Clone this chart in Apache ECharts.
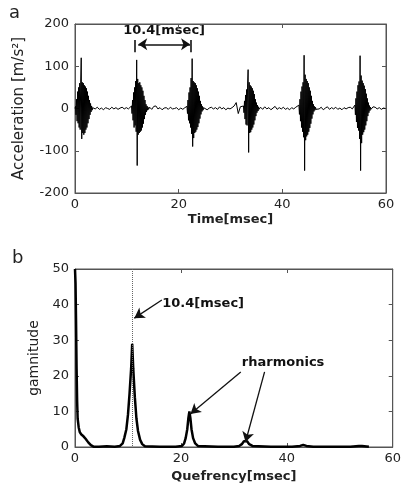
<!DOCTYPE html>
<html><head><meta charset="utf-8">
<script src="https://cdn.jsdelivr.net/npm/echarts@6/dist/echarts.min.js"></script>
<style>html,body{margin:0;padding:0;background:#fff}#c{width:404px;height:485px}</style>
</head><body><div id="c"></div>
<script>
// ---- Panel a: acceleration signal (ms, m/s^2) ----
const dtBurst = 0.1;
const dtQuiet = 0.4;
const burstStart = [0.1, 10.9, 21.6, 32.5, 43.2, 54.0];
const burst1 = [5,-15,22,-30,40,-35,50,-45,60,-50,65,120,-72,62,-58,60,-62,55,-58,52,-50,48,-45,40,-35,30,-25,20,-15,12,-8,6,-4,2];
const burst2 = [6,-12,20,-28,38,-45,50,-40,65,-55,115,-135,70,-62,60,-58,62,-55,55,-52,50,-45,42,-36,30,-25,20,-15,10,-8,6,-4,3,-2];
const burst3 = [5,-12,20,-28,38,-35,50,-45,72,-60,118,-90,65,-70,62,-58,60,-55,55,-50,48,-44,40,-35,30,-24,18,-14,10,-7,5,-4,2,-1];
const burst4 = [6,-10,18,-25,32,-38,45,-40,58,92,-104,62,-58,55,-56,52,-50,48,-45,42,-38,34,-28,22,-18,14,-10,8,-6,4,-2,2];
const burst5 = [8,-14,22,-30,40,-45,52,-55,62,-68,126,-147,80,-75,70,-66,65,-62,60,-55,50,-46,42,-36,30,-24,18,-14,10,-7,5,-4,3,-2];
const burst6 = [8,-15,24,-32,40,-46,55,-52,64,-72,125,-147,78,-82,66,-62,60,-56,54,-50,46,-40,35,-30,24,-18,14,-10,7,-5,3,-2,2,-1];
const quietStart = [3.5, 14.4, 25.1, 35.8, 46.7, 57.5];
const quiet1 = [2,-1,3,-2,1,-3,2,0,-2,3,-1,2,-2,1,3,-1,2,-1];
const quiet2 = [3,-2,5,6,-1,2,-3,1,2,-2,3,-1,0,2,-3,1,-2,2];
const quiet3 = [2,-3,1,3,-1,2,-2,4,-1,2,-3,1,-1,2,6,14,-12,4];
const quiet4 = [3,-2,4,-1,2,-3,1,5,-2,2,-1,3,-2,1,-3,2,-1,3];
const quiet5 = [2,-1,3,-3,1,4,-2,2,-1,3,-2,1,-3,2,-1,2,3,-1];
const quiet6 = [4,3,-1,2,-2,1,0];

// ---- Panel b: cepstrum ----
const quefrency = [0,0.1,0.2,0.3,0.4,0.5,0.7,0.9,1.2,1.6,2.0,2.5,3.0,3.5,4.5,6,7.5,8.5,9.0,9.3,9.7,10.0,10.3,10.6,10.8,11.0,11.3,11.6,11.9,12.3,12.7,13.2,16,19,20.2,20.6,20.9,21.2,21.4,21.6,21.8,22.0,22.3,22.7,23.2,27,30,31.0,31.5,31.9,32.2,32.5,32.9,33.5,37,41,42.5,43.1,43.7,45,48,52,53.6,54.2,55.5];
const magnitude = [50,46,35,22,13,8,5.5,4.2,3.5,3,2.3,1.3,0.5,0.1,0.1,0.2,0.1,0.3,1,2.5,5,9,15,22,29,22,14,8,4.5,2,0.8,0.2,0.1,0.1,0.3,1,2.5,5,8,10,8,5,2.5,1,0.3,0.1,0.1,0.3,0.8,1.6,2,1.6,0.8,0.3,0.1,0.1,0.3,0.6,0.3,0.1,0.1,0.1,0.3,0.3,0.1];
const peakQuefrency = 10.8;

const bursts = [burst1, burst2, burst3, burst4, burst5, burst6];
const quiets = [quiet1, quiet2, quiet3, quiet4, quiet5, quiet6];
const accel = [[0, 0]];
bursts.forEach((b, k) => b.forEach((v, i) => accel.push([+(burstStart[k] + i * dtBurst).toFixed(2), v])));
quiets.forEach((q, k) => q.forEach((v, i) => accel.push([+(quietStart[k] + i * dtQuiet).toFixed(2), v])));
accel.sort((a, b) => a[0] - b[0]);
const ceps = quefrency.map((t, i) => [t, magnitude[i]]);

const FONT = 'DejaVu Sans';
const frameColor = '#555';
function mkX(grid, pos, show, name, gap) {
  return {
    type: 'value', gridIndex: grid, position: pos, min: 0, max: 60, interval: 20,
    axisLine: { show: true, onZero: false, lineStyle: { color: frameColor, width: 1 } },
    axisTick: { show: true, inside: true, length: 4, lineStyle: { color: frameColor } },
    axisLabel: { show: show, margin: 5, color: '#222', fontFamily: FONT, fontSize: 13 },
    splitLine: { show: false },
    name: name, nameLocation: 'middle', nameGap: gap,
    nameTextStyle: { fontFamily: FONT, fontWeight: 'bold', fontSize: 13, color: '#222' }
  };
}
function mkY(grid, pos, show, min, max, interval, name, gap, size) {
  return {
    type: 'value', gridIndex: grid, position: pos, min: min, max: max, interval: interval,
    axisLine: { show: true, onZero: false, lineStyle: { color: frameColor, width: 1 } },
    axisTick: { show: true, inside: true, length: 4, lineStyle: { color: frameColor } },
    axisLabel: { show: show, margin: 6, color: '#222', fontFamily: FONT, fontSize: 13 },
    splitLine: { show: false },
    name: name, nameLocation: 'middle', nameGap: gap, nameRotate: 90,
    nameTextStyle: { fontFamily: FONT, fontSize: size, color: '#222' }
  };
}

const chart = echarts.init(document.getElementById('c'), null, { renderer: 'canvas' });
const arrowLine = { color: '#111', width: 1.3, type: 'solid' };
chart.setOption({
  animation: false,
  backgroundColor: '#fff',
  grid: [
    { left: 75, top: 24, width: 311, height: 169, show: true, borderColor: frameColor, borderWidth: 1, backgroundColor: 'transparent' },
    { left: 75, top: 269, width: 322, height: 178, show: true, borderColor: frameColor, borderWidth: 1, backgroundColor: 'transparent' }
  ],
  xAxis: [
    mkX(0, 'bottom', true, 'Time[msec]', 20),
    mkX(0, 'top', false, '', 0),
    mkX(1, 'bottom', true, 'Quefrency[msec]', 23),
    mkX(1, 'top', false, '', 0)
  ],
  yAxis: [
    mkY(0, 'left', true, -200, 200, 100, 'Acceleration [m/s²]', 48, 15),
    mkY(0, 'right', false, -200, 200, 100, '', 0, 13),
    mkY(1, 'left', true, 0, 50, 10, 'gamnitude', 33, 14),
    mkY(1, 'right', false, 0, 50, 10, '', 0, 13)
  ],
  series: [
    {
      type: 'line', xAxisIndex: 0, yAxisIndex: 0, data: accel, showSymbol: false,
      lineStyle: { color: '#000', width: 1 }, silent: true,
      markLine: {
        silent: true, animation: false, label: { show: false },
        symbol: ['arrow', 'arrow'], symbolSize: [9, 9],
        lineStyle: { color: '#111', width: 1.6, type: 'solid' },
        data: [
          [{ coord: [12.2, 152] }, { coord: [22.2, 152] }],
          [{ coord: [11.6, 162], symbol: 'none' }, { coord: [11.6, 133], symbol: 'none' }],
          [{ coord: [22.4, 162], symbol: 'none' }, { coord: [22.4, 133], symbol: 'none' }]
        ]
      }
    },
    {
      type: 'line', xAxisIndex: 2, yAxisIndex: 2, data: ceps, showSymbol: false,
      lineStyle: { color: '#000', width: 2.5 }, silent: true,
      markLine: {
        silent: true, animation: false, label: { show: false },
        symbol: ['none', 'arrow'], symbolSize: [9, 10],
        lineStyle: arrowLine,
        data: [
          [{ xAxis: peakQuefrency, y: 269, symbol: 'none', lineStyle: { type: 'dotted', color: '#666', width: 1 } },
           { xAxis: peakQuefrency, y: 447, symbol: 'none', lineStyle: { type: 'dotted', color: '#666', width: 1 } }],
          [{ coord: [16.4, 41.3] }, { coord: [11.2, 36.2] }],
          [{ coord: [31.3, 21.1] }, { coord: [21.8, 9.3] }],
          [{ coord: [35.8, 21.1] }, { coord: [32.2, 1.4] }]
        ]
      }
    }
  ]
});

function px(grid, p) { return chart.convertToPixel({ xAxisIndex: grid * 2, yAxisIndex: grid * 2 }, p); }
const tA = px(0, [17.2, 185]);
const tB = px(1, [24.2, 40.4]);
const tC = px(1, [39.3, 23.6]);
const bold = { fontFamily: FONT, fontWeight: 'bold', fontSize: 13, fill: '#111', align: 'center', verticalAlign: 'middle' };
chart.setOption({
  graphic: [
    { type: 'text', x: 9, y: 4, style: { text: 'a', fontFamily: FONT, fontSize: 18, fill: '#222' } },
    { type: 'text', x: 12, y: 249, style: { text: 'b', fontFamily: FONT, fontSize: 18, fill: '#222' } },
    { type: 'text', x: tA[0], y: tA[1], style: Object.assign({ text: '10.4[msec]' }, bold) },
    { type: 'text', x: tB[0], y: tB[1], style: Object.assign({ text: '10.4[msec]' }, bold) },
    { type: 'text', x: tC[0], y: tC[1], style: Object.assign({ text: 'rharmonics' }, bold) }
  ]
});
</script></body></html>
